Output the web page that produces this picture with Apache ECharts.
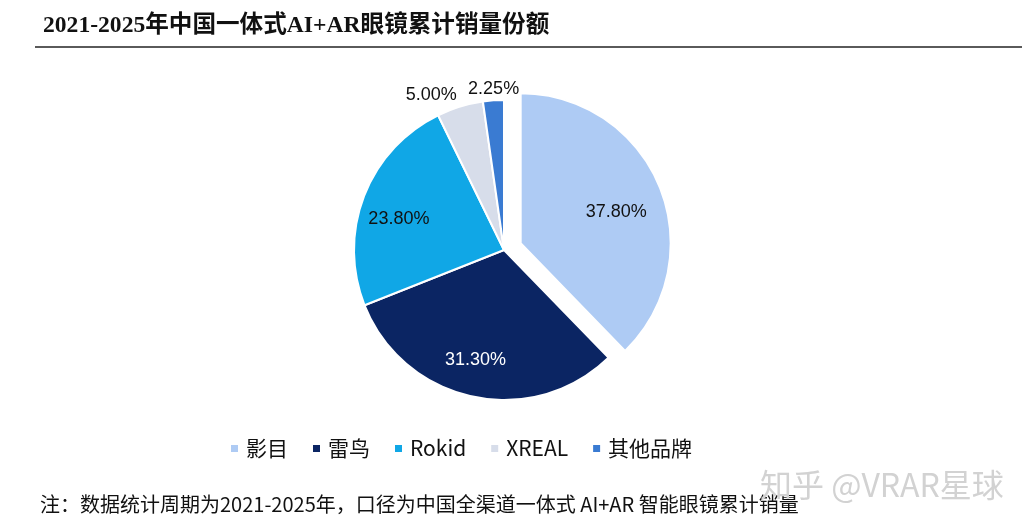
<!DOCTYPE html>
<html>
<head>
<meta charset="utf-8">
<script src="https://cdn.jsdelivr.net/npm/echarts@6/dist/echarts.min.js"></script>
<style>
html,body{margin:0;padding:0;background:#fff;}
#chart{width:1028px;height:532px;}
</style>
</head>
<body>
<div id="chart"></div>
<script>
const titleText = '2021-2025年中国一体式AI+AR眼镜累计销量份额';
const noteText = '注：数据统计周期为2021-2025年，口径为中国全渠道一体式 AI+AR 智能眼镜累计销量';
const watermarkText = '知乎 @VRAR星球';
const brands = ['影目', '雷鸟', 'Rokid', 'XREAL', '其他品牌'];
const shares = [37.80, 31.30, 23.80, 5.00, 2.25];
const colors = ['#AECBF4', '#0B2563', '#10A7E6', '#D7DDEA', '#3A7BD2'];
const labelColors = ['#111', '#fff', '#111', '#111', '#111'];
const insideSlices = [true, true, true, false, false];

const chart = echarts.init(document.getElementById('chart'));
const CX = 504, CY = 250, R = 150;
// label placement tweaks: radial push for inside labels, then small nudges
const radialScale = [1.35, 1.5, 1.5, 1, 1];
const nudgeX = [-2, -4, 4, 3, 31];
const nudgeY = [8, -4, 11, -8, -7];

const data = brands.map((b, i) => ({
  name: b,
  value: shares[i],
  selected: i === 0,
  itemStyle: { color: colors[i] },
  label: {
    position: insideSlices[i] ? 'inside' : 'outside',
    color: labelColors[i]
  },
  labelLine: { show: false, length: 4, length2: 0 }
}));

chart.setOption({
  animation: false,
  graphic: [
    { type: 'text', left: 43, top: 14, style: { text: titleText, font: 'bold 23.6px "Liberation Serif", "Noto Sans CJK SC"', fill: '#111' } },
    { type: 'rect', shape: { x: 35, y: 46, width: 987, height: 2 }, style: { fill: '#5a5a5a' } },
    { type: 'text', left: 40, top: 494, style: { text: noteText, font: '20px "Noto Sans CJK SC"', fill: '#111' } },
    { type: 'text', left: 760, top: 469, style: { text: watermarkText, font: '32px "Noto Sans CJK SC"', fill: '#d2d2d2' } }
  ],
  legend: {
    bottom: 68,
    left: 224,
    itemWidth: 9,
    itemHeight: 9,
    icon: 'rect',
    itemGap: 23,
    textStyle: { fontSize: 21, color: '#111', fontFamily: '"Noto Sans CJK SC"', padding: [0, 0, 0, 2] },
    data: brands
  },
  series: [{
    type: 'pie',
    center: [CX, CY],
    radius: [0, R],
    startAngle: 90,
    clockwise: true,
    selectedMode: 'single',
    selectedOffset: 18,
    avoidLabelOverlap: false,
    itemStyle: { borderColor: '#fff', borderWidth: 2 },
    label: {
      show: true,
      fontSize: 18,
      fontFamily: '"Liberation Sans"',
      formatter: p => p.value.toFixed(2) + '%'
    },
    labelLayout: function (p) {
      const i = p.dataIndex;
      const s = radialScale[i];
      const lx = p.labelRect.x + p.labelRect.width / 2;
      const ly = p.labelRect.y + p.labelRect.height / 2;
      return { dx: (lx - CX) * (s - 1) + nudgeX[i], dy: (ly - CY) * (s - 1) + nudgeY[i] };
    },
    data: data
  }]
});
</script>
</body>
</html>
